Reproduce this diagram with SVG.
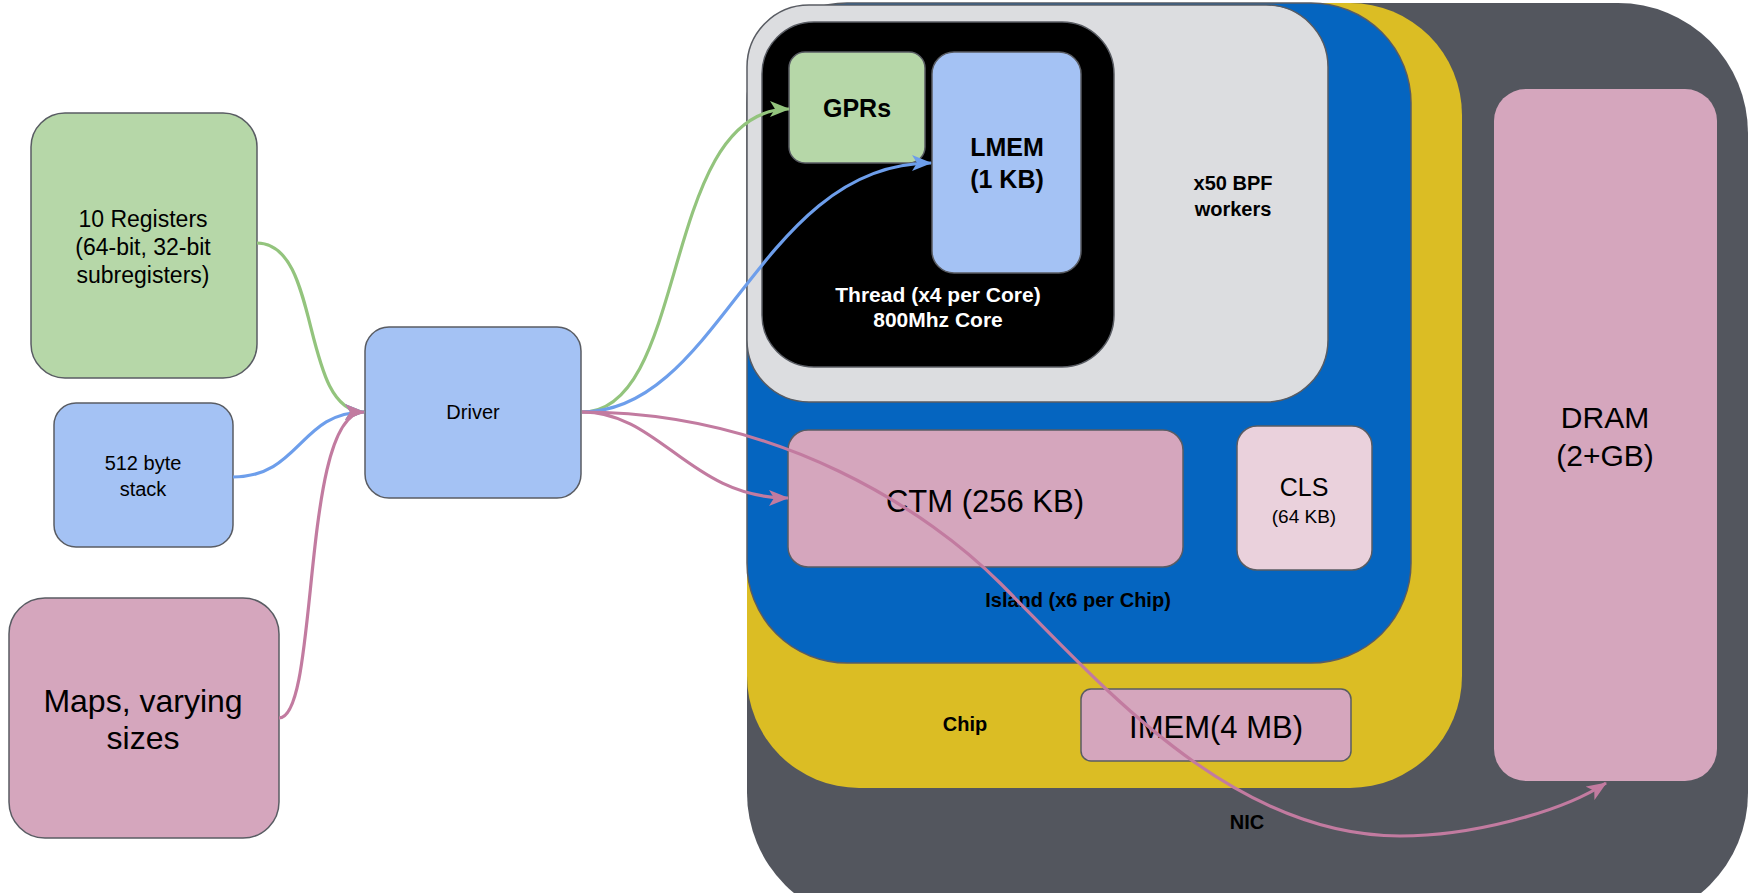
<svg xmlns="http://www.w3.org/2000/svg" width="1750" height="893" viewBox="0 0 1750 893">
<defs>
<style>
text{font-family:"Liberation Sans",Arial,sans-serif;text-anchor:middle;fill:#000}
.b{font-weight:bold}
.node{stroke:#595c63;stroke-width:1.5}
.green{fill:#b6d7a8}
.blue{fill:#a4c2f4}
.pink{fill:#d5a6bd}
.edge{fill:none;stroke-width:3.2}
</style>
<marker id="ag" viewBox="0 0 20 16" refX="19" refY="8" markerWidth="20" markerHeight="16" markerUnits="userSpaceOnUse" orient="auto"><path d="M0,0 L20,8 L0,16 L5,8 Z" fill="#93c47d"/></marker>
<marker id="ab" viewBox="0 0 20 16" refX="19" refY="8" markerWidth="20" markerHeight="16" markerUnits="userSpaceOnUse" orient="auto"><path d="M0,0 L20,8 L0,16 L5,8 Z" fill="#6d9eeb"/></marker>
<marker id="ap" viewBox="0 0 20 16" refX="19" refY="8" markerWidth="20" markerHeight="16" markerUnits="userSpaceOnUse" orient="auto"><path d="M0,0 L20,8 L0,16 L5,8 Z" fill="#c27ba0"/></marker>
</defs>
<rect width="1750" height="893" fill="#fff"/>

<g id="nic">
<rect x="747" y="3" width="1001" height="920" rx="130" ry="130" fill="#53565e"/>
<text class="b" x="1247" y="829" font-size="20">NIC</text>
</g>
<g id="chip">
<rect x="747" y="3" width="715" height="785" rx="112" ry="112" fill="#dbbd24"/>
<text class="b" x="965" y="731" font-size="20">Chip</text>
</g>
<g id="island">
<rect x="747" y="3" width="664" height="660" rx="100" ry="100" fill="#0565c0" class="node"/>
<text class="b" x="1078" y="607" font-size="20">Island (x6 per Chip)</text>
</g>
<g id="bpf-workers">
<rect x="747" y="5" width="581" height="397" rx="62" ry="62" fill="#dcdde0" class="node"/>
<text class="b" x="1233" y="190" font-size="20">x50 BPF</text>
<text class="b" x="1233" y="216" font-size="20">workers</text>
</g>
<g id="thread">
<rect x="762" y="22" width="352" height="345" rx="52" ry="52" fill="#000" class="node"/>
<text class="b" x="938" y="302" font-size="21" style="fill:#fff">Thread (x4 per Core)</text>
<text class="b" x="938" y="327" font-size="21" style="fill:#fff">800Mhz Core</text>
</g>
<g id="gprs">
<rect x="789" y="52" width="136" height="111" rx="16" ry="16" class="node green"/>
<text class="b" x="857" y="117" font-size="25">GPRs</text>
</g>
<g id="lmem">
<rect x="932" y="52" width="149" height="221" rx="22" ry="22" class="node blue"/>
<text class="b" x="1007" y="156" font-size="25">LMEM</text>
<text class="b" x="1007" y="188" font-size="25">(1 KB)</text>
</g>
<g id="ctm">
<rect x="788" y="430" width="395" height="137" rx="20" ry="20" class="node pink"/>
<text x="985" y="512" font-size="31">CTM (256 KB)</text>
</g>
<g id="cls">
<rect x="1237" y="426" width="135" height="144" rx="20" ry="20" class="node" fill="#ead1dc"/>
<text x="1304" y="496" font-size="25">CLS</text>
<text x="1304" y="523" font-size="19">(64 KB)</text>
</g>
<g id="imem">
<rect x="1081" y="689" width="270" height="72" rx="10" ry="10" class="node pink"/>
<text x="1216" y="738" font-size="31">IMEM(4 MB)</text>
</g>
<g id="dram">
<rect x="1494" y="89" width="223" height="692" rx="32" ry="32" class="pink"/>
<text x="1605" y="428" font-size="30">DRAM</text>
<text x="1605" y="466" font-size="30">(2+GB)</text>
</g>

<g id="registers">
<rect x="31" y="113" width="226" height="265" rx="34" ry="34" class="node green"/>
<text x="143" y="227" font-size="23">10 Registers</text>
<text x="143" y="255" font-size="23">(64-bit, 32-bit</text>
<text x="143" y="283" font-size="23">subregisters)</text>
</g>
<g id="stack">
<rect x="54" y="403" width="179" height="144" rx="22" ry="22" class="node blue"/>
<text x="143" y="470" font-size="20">512 byte</text>
<text x="143" y="496" font-size="20">stack</text>
</g>
<g id="maps">
<rect x="9" y="598" width="270" height="240" rx="36" ry="36" class="node pink"/>
<text x="143" y="712" font-size="32">Maps, varying</text>
<text x="143" y="749" font-size="32">sizes</text>
</g>
<g id="driver">
<rect x="365" y="327" width="216" height="171" rx="24" ry="24" class="node blue"/>
<text x="473" y="419" font-size="20">Driver</text>
</g>

<g id="connectors">
<path class="edge" stroke="#93c47d" d="M257,243 C322,243 300,412 364,412" marker-end="url(#ag)"/>
<path class="edge" stroke="#6d9eeb" d="M233,477 C300,477 300,412 364,412" marker-end="url(#ab)"/>
<path class="edge" stroke="#c27ba0" d="M279,718 C320,718 300,412 364,412" marker-end="url(#ap)"/>
<path class="edge" stroke="#93c47d" d="M582,412 C690,412 660,109 789,109" marker-end="url(#ag)"/>
<path class="edge" stroke="#6d9eeb" d="M582,412 C720,412 760,163 931,163" marker-end="url(#ab)"/>
<path class="edge" stroke="#c27ba0" d="M582,412 C660,412 690,498 788,498" marker-end="url(#ap)"/>
<path class="edge" stroke="#c27ba0" d="M582,412 C780,412 930,513 1000,583 C1100,683 1230,836 1400,836 C1470,836 1560,813 1606,783" marker-end="url(#ap)"/>
</g>
</svg>
